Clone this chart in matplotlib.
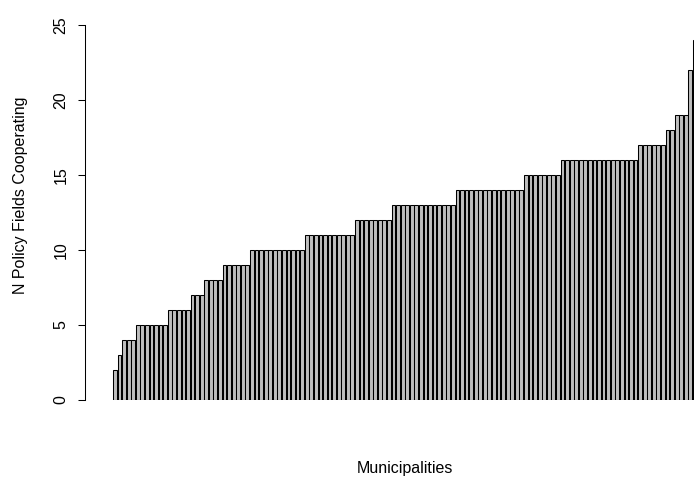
import matplotlib.pyplot as plt
import numpy as np

plt.rcParams['font.family'] = ['Liberation Sans', 'DejaVu Sans']

# number of policy fields per municipality, sorted
values = [2, 3, 4, 4, 4,
          5, 5, 5, 5, 5, 5, 5,
          6, 6, 6, 6, 6,
          7, 7, 7,
          8, 8, 8, 8,
          9, 9, 9, 9, 9, 9,
          10, 10, 10, 10, 10, 10, 10, 10, 10, 10, 10, 10,
          11, 11, 11, 11, 11, 11, 11, 11, 11, 11, 11,
          12, 12, 12, 12, 12, 12, 12, 12,
          13, 13, 13, 13, 13, 13, 13, 13, 13, 13, 13, 13, 13, 13,
          14, 14, 14, 14, 14, 14, 14, 14, 14, 14, 14, 14, 14, 14, 14,
          15, 15, 15, 15, 15, 15, 15, 15,
          16, 16, 16, 16, 16, 16, 16, 16, 16, 16, 16, 16, 16, 16, 16, 16, 16,
          17, 17, 17, 17, 17, 17,
          18, 18,
          19, 19, 19,
          22, 24]
yticks = [0, 5, 10, 15, 20, 25]

W, H = 694, 482
fig = plt.figure(figsize=(W/100, H/100), dpi=100)
# plot region in pixels: left 85, right 694, y=0 at 400, y=25 at 25
ax = fig.add_axes([85/W, (H-400)/H, (694-85)/W, 375/H])

n = len(values)
x = 0.7 + 1.2*np.arange(n)
ax.bar(x, values, width=1.0, color='#BEBEBE', edgecolor='black', linewidth=0.75)

px = 1.2/4.567  # data units per pixel
ax.set_xlim(0.2 - 28*px, 0.2 + 581*px)
ax.set_ylim(0, 25)

for s in ['top', 'right', 'bottom']:
    ax.spines[s].set_visible(False)
ax.spines['left'].set_bounds(0, 25)
ax.spines['left'].set_linewidth(0.75)
ax.set_xticks([])
ax.set_yticks(yticks)
ax.set_yticklabels([str(t) for t in yticks], rotation=90, va='center')
ax.tick_params(axis='y', length=5, width=0.75, pad=7, labelsize=11.5)

fig.text(21/W, 1-195/H, 'N Policy Fields Cooperating', rotation=90,
         ha='center', va='center', fontsize=11.5)
fig.text(405/W, 1-469/H, 'Municipalities', ha='center', va='center', fontsize=11.5)

fig.savefig('out.png', dpi=100)
